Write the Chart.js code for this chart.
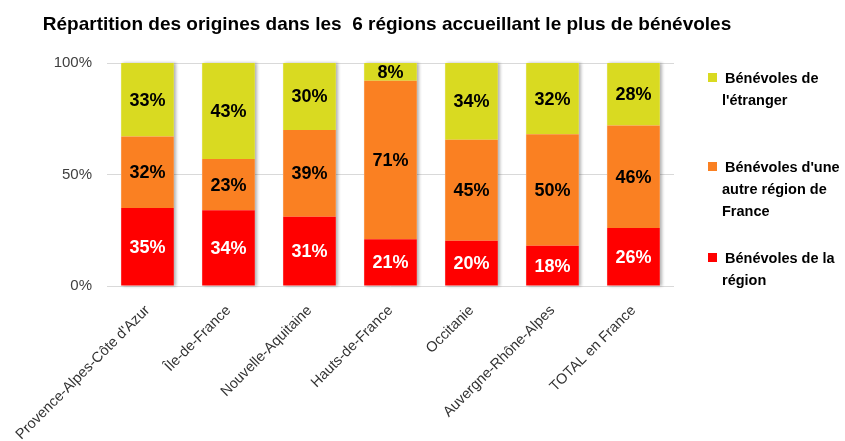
<!DOCTYPE html>
<html lang="fr">
<head>
<meta charset="utf-8">
<title>Répartition des origines des bénévoles</title>
<script src="https://cdn.jsdelivr.net/npm/chart.js@4"></script>
<style>
  html, body { margin: 0; padding: 0; background: #fff; }
  #wrap { width: 845px; height: 441px; }
</style>
</head>
<body>
<div id="wrap"><canvas id="myChart" width="845" height="441"></canvas></div>
<script>
const chartTitle = 'Répartition des origines dans les  6 régions accueillant le plus de bénévoles'
const categories = ['Provence-Alpes-Côte d\'Azur', 'Île-de-France', 'Nouvelle-Aquitaine', 'Hauts-de-France', 'Occitanie', 'Auvergne-Rhône-Alpes', 'TOTAL en France']
const regionValues = [35, 34, 31, 21, 20.3, 18, 26]
const otherRegionValues = [32, 23, 39, 71, 45.3, 50, 46]
const foreignValues = [33, 43, 30, 8, 34.4, 32, 28]
const yTicks = [0, 50, 100]
const seriesNames = ['Bénévoles de la région', 'Bénévoles d\'une autre région de France', 'Bénévoles de l\'étranger']
// legend text as wrapped on the picture (top to bottom: étranger, autre région, région)
const legendLines = [
  ['Bénévoles de', 'l\'étranger'],
  ['Bénévoles d\'une', 'autre région de', 'France'],
  ['Bénévoles de la', 'région']
]

const RED = '#FF0000'
const ORANGE = '#FA8022'
const YELLOW = '#D9DA21'
const FONT = '"Liberation Sans", Arial, sans-serif'

// soft shadow behind each whole stack (drawn once, so no seams between segments)
const barShadow = {
  id: 'barShadow',
  beforeDatasetsDraw(chart) {
    const c = chart.ctx
    const bottom = chart.getDatasetMeta(0).data
    const top = chart.getDatasetMeta(chart.data.datasets.length - 1).data
    c.save()
    c.shadowColor = 'rgba(0,0,0,0.3)'
    c.shadowBlur = 3
    c.shadowOffsetX = 2
    c.fillStyle = '#ffffff'
    bottom.forEach((bar, j) => {
      const y0 = top[j].y
      const y1 = bar.base
      c.fillRect(bar.x - bar.width / 2, y0, bar.width, y1 - y0)
    })
    c.restore()
  }
}

// value labels in the middle of each segment
const segmentLabels = {
  id: 'segmentLabels',
  afterDatasetsDraw(chart) {
    const c = chart.ctx
    c.save()
    c.font = 'bold 18px ' + FONT
    c.textAlign = 'center'
    c.textBaseline = 'middle'
    chart.data.datasets.forEach((ds, i) => {
      const meta = chart.getDatasetMeta(i)
      c.fillStyle = i === 0 ? '#ffffff' : '#000000'
      meta.data.forEach((bar, j) => {
        const y = (bar.y + bar.base) / 2
        c.fillText(Math.round(ds.data[j]) + '%', bar.x, y + 1)
      })
    })
    c.restore()
  }
}

// title and legend drawn around the plot
const decorations = {
  id: 'decorations',
  afterDraw(chart) {
    const c = chart.ctx
    c.save()
    c.fillStyle = '#000'
    c.font = 'bold 19px ' + FONT
    c.textAlign = 'center'
    c.textBaseline = 'alphabetic'
    c.fillText(chartTitle, 387, 30)

    const colors = [YELLOW, ORANGE, RED]
    const tops = [73, 162, 253]
    c.font = 'bold 14.5px ' + FONT
    c.textAlign = 'left'
    legendLines.forEach((lines, i) => {
      c.fillStyle = colors[i]
      c.fillRect(708, tops[i], 9, 9)
      c.fillStyle = '#000'
      lines.forEach((line, k) => {
        c.fillText(line, k === 0 ? 725 : 722, tops[i] + 10 + k * 22)
      })
    })
    c.restore()
  }
}

const ctx = document.getElementById('myChart')

new Chart(ctx, {
  type: 'bar',
  data: {
    labels: categories,
    datasets: [
      { label: seriesNames[0], data: regionValues, backgroundColor: RED },
      { label: seriesNames[1], data: otherRegionValues, backgroundColor: ORANGE },
      { label: seriesNames[2], data: foreignValues, backgroundColor: YELLOW }
    ]
  },
  options: {
    responsive: false,
    animation: false,
    devicePixelRatio: 1,
    categoryPercentage: 1,
    barPercentage: 0.65,
    layout: { padding: { left: 0, right: 171, top: 63, bottom: 0 } },
    plugins: {
      legend: { display: false },
      tooltip: { enabled: false },
      title: { display: false }
    },
    scales: {
      x: {
        stacked: true,
        grid: { display: false },
        border: { display: false },
        ticks: {
          minRotation: 45,
          maxRotation: 45,
          color: '#333',
          padding: 8,
          font: { family: FONT, size: 14.5 }
        },
        afterFit(s) {
          s.height = 155
          s.paddingLeft = 0
          s.paddingRight = 0
        }
      },
      y: {
        stacked: true,
        min: 0,
        max: 100,
        border: { display: false },
        grid: { color: '#D9D9D9', lineWidth: 1, drawTicks: false },
        ticks: {
          padding: 15,
          color: '#404040',
          font: { family: FONT, size: 15 },
          callback: v => v + '%'
        },
        afterBuildTicks(s) {
          s.ticks = yTicks.map(v => ({ value: v }))
        },
        afterFit(s) {
          s.width = 107
        }
      }
    }
  },
  plugins: [barShadow, segmentLabels, decorations]
})
</script>
</body>
</html>
